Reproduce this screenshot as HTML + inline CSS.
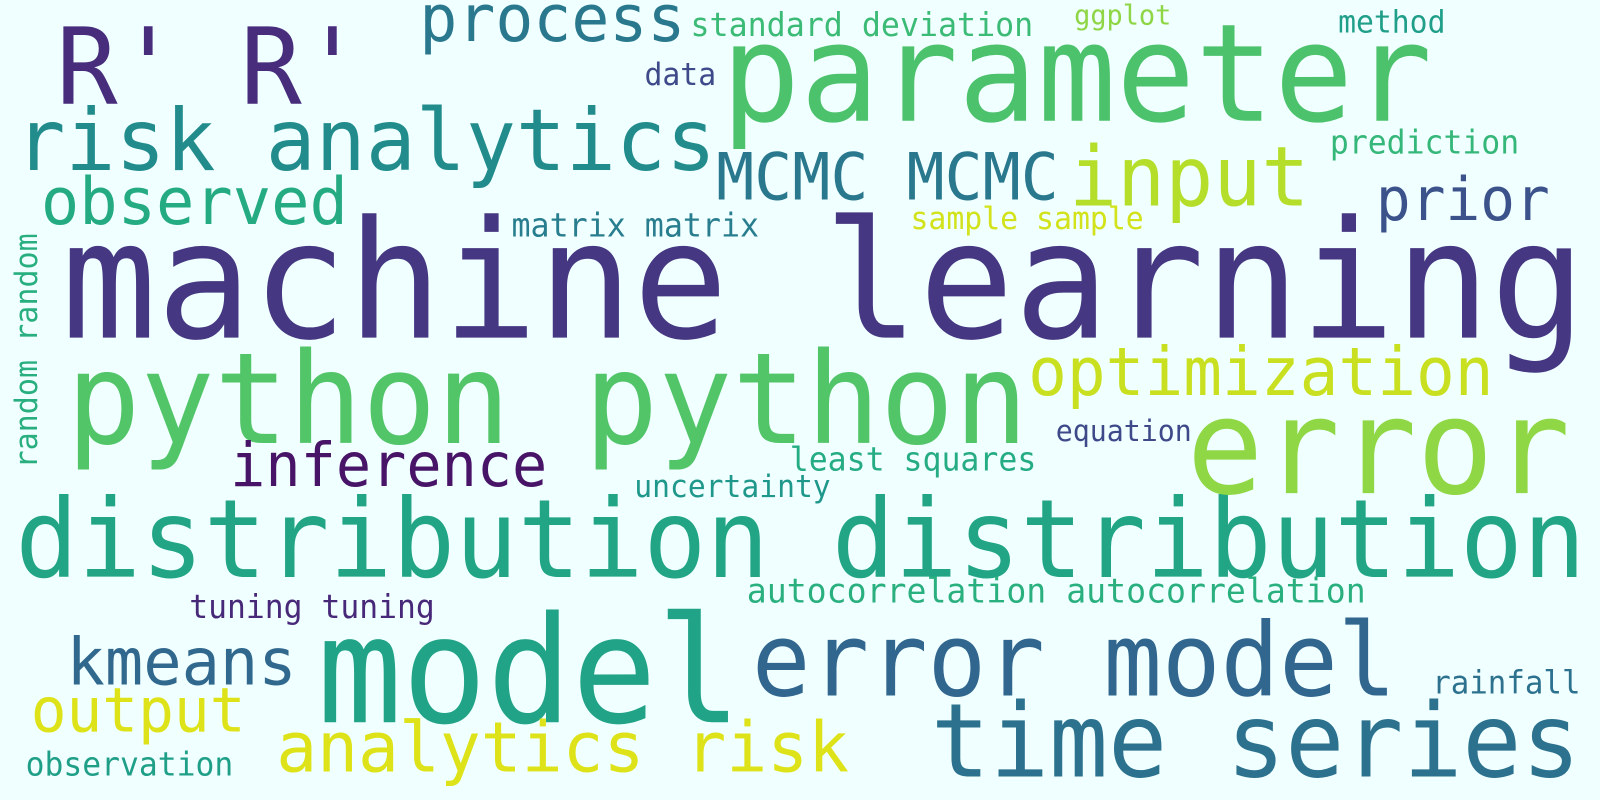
<!DOCTYPE html>
<html><head><meta charset="utf-8"><style>
html,body{margin:0;padding:0;background:#f0ffff;}
svg{display:block;}
text{font-family:"DejaVu Sans Mono","Liberation Mono",monospace;}
</style></head><body>
<svg width="1600" height="800" viewBox="0 0 1600 800">
<rect width="1600" height="800" fill="#f0ffff"/>
<g transform="scale(1.023)">
<text x="60" y="330" font-size="160" textLength="1490" lengthAdjust="spacingAndGlyphs" fill="#453781">machine learning</text>
<text x="65" y="433" font-size="124" textLength="940" lengthAdjust="spacingAndGlyphs" fill="#52c569">python python</text>
<text x="15" y="564" font-size="106" textLength="1535" lengthAdjust="spacingAndGlyphs" fill="#21a585">distribution distribution</text>
<text x="310" y="706" font-size="145" textLength="415" lengthAdjust="spacingAndGlyphs" fill="#20a386">model</text>
<text x="705" y="118" font-size="133" textLength="695" lengthAdjust="spacingAndGlyphs" fill="#4cc26c">parameter</text>
<text x="1160" y="482" font-size="130" textLength="375" lengthAdjust="spacingAndGlyphs" fill="#8fd744">error</text>
<text x="55" y="101" font-size="104" textLength="300" lengthAdjust="spacingAndGlyphs" fill="#472d7b">R' R'</text>
<text x="15" y="166" font-size="84" textLength="685" lengthAdjust="spacingAndGlyphs" fill="#228c8d">risk analytics</text>
<text x="410" y="40" font-size="64" textLength="260" lengthAdjust="spacingAndGlyphs" fill="#2a788e">process</text>
<text x="675" y="35" font-size="32" textLength="335" lengthAdjust="spacingAndGlyphs" fill="#3bbb75">standard deviation</text>
<text x="1050" y="24" font-size="27" textLength="95" lengthAdjust="spacingAndGlyphs" fill="#8ed645">ggplot</text>
<text x="1308" y="32" font-size="30" textLength="105" lengthAdjust="spacingAndGlyphs" fill="#1f9e89">method</text>
<text x="630" y="83" font-size="30" textLength="70" lengthAdjust="spacingAndGlyphs" fill="#3e4a89">data</text>
<text x="700" y="195" font-size="64" textLength="335" lengthAdjust="spacingAndGlyphs" fill="#2a788e">MCMC MCMC</text>
<text x="1045" y="201" font-size="81" textLength="235" lengthAdjust="spacingAndGlyphs" fill="#b5de2b">input</text>
<text x="40" y="219" font-size="64" textLength="300" lengthAdjust="spacingAndGlyphs" fill="#25ab82">observed</text>
<text x="1345" y="215" font-size="58" textLength="170" lengthAdjust="spacingAndGlyphs" fill="#3b528b">prior</text>
<text x="1300" y="150" font-size="32" textLength="185" lengthAdjust="spacingAndGlyphs" fill="#35b779">prediction</text>
<text x="500" y="231" font-size="32" textLength="242" lengthAdjust="spacingAndGlyphs" fill="#287d8e">matrix matrix</text>
<text x="890" y="224" font-size="30" textLength="228" lengthAdjust="spacingAndGlyphs" fill="#d2e21b">sample sample</text>
<text transform="translate(36,458) rotate(-90)" x="0" y="0" font-size="30" textLength="230" lengthAdjust="spacingAndGlyphs" fill="#29af7f">random random</text>
<text x="1005" y="386" font-size="65" textLength="455" lengthAdjust="spacingAndGlyphs" fill="#c8e020">optimization</text>
<text x="225" y="475" font-size="59" textLength="310" lengthAdjust="spacingAndGlyphs" fill="#481467">inference</text>
<text x="1032" y="431" font-size="29" textLength="133" lengthAdjust="spacingAndGlyphs" fill="#3e4989">equation</text>
<text x="772" y="460" font-size="32" textLength="241" lengthAdjust="spacingAndGlyphs" fill="#25ac82">least squares</text>
<text x="620" y="486" font-size="30" textLength="192" lengthAdjust="spacingAndGlyphs" fill="#1f988b">uncertainty</text>
<text x="730" y="589" font-size="33" textLength="605" lengthAdjust="spacingAndGlyphs" fill="#2ab07f">autocorrelation autocorrelation</text>
<text x="185" y="604" font-size="32" textLength="240" lengthAdjust="spacingAndGlyphs" fill="#482979">tuning tuning</text>
<text x="65" y="669" font-size="64" textLength="225" lengthAdjust="spacingAndGlyphs" fill="#31688e">kmeans</text>
<text x="735" y="680" font-size="99" textLength="630" lengthAdjust="spacingAndGlyphs" fill="#31668e">error model</text>
<text x="30" y="715" font-size="60" textLength="210" lengthAdjust="spacingAndGlyphs" fill="#dde318">output</text>
<text x="270" y="754" font-size="68" textLength="560" lengthAdjust="spacingAndGlyphs" fill="#dde318">analytics risk</text>
<text x="910" y="759" font-size="100" textLength="635" lengthAdjust="spacingAndGlyphs" fill="#2c728e">time series</text>
<text x="1400" y="678" font-size="31" textLength="145" lengthAdjust="spacingAndGlyphs" fill="#2c718e">rainfall</text>
<text x="25" y="758" font-size="32" textLength="203" lengthAdjust="spacingAndGlyphs" fill="#1f9f88">observation</text>
</g>
</svg>
</body></html>
